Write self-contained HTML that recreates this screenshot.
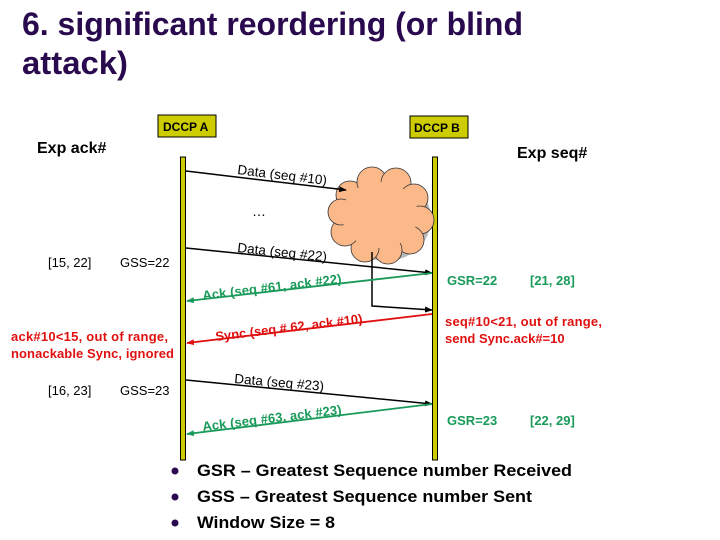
<!DOCTYPE html>
<html><head><meta charset="utf-8"><style>
body{margin:0;background:#fff;}
svg{display:block;}
text{font-family:"Liberation Sans",Arial,sans-serif;}
</style></head><body>
<svg width="720" height="540" viewBox="0 0 720 540" xmlns="http://www.w3.org/2000/svg">
<defs>
<marker id="ak" markerWidth="8" markerHeight="8" refX="7" refY="4" orient="auto" markerUnits="userSpaceOnUse"><path d="M0,1 L8,4 L0,7 z" fill="#000"/></marker>
<marker id="ag" markerWidth="8" markerHeight="8" refX="7" refY="4" orient="auto" markerUnits="userSpaceOnUse"><path d="M0,1 L8,4 L0,7 z" fill="#1a9a5a"/></marker>
<marker id="ar" markerWidth="8" markerHeight="8" refX="7" refY="4" orient="auto" markerUnits="userSpaceOnUse"><path d="M0,1 L8,4 L0,7 z" fill="#e01010"/></marker>
</defs>
<g fill="#2a0a4e" font-weight="bold" font-size="32">
<text x="22" y="35" textLength="501" lengthAdjust="spacingAndGlyphs">6. significant reordering (or blind</text>
<text x="22" y="74" textLength="106" lengthAdjust="spacingAndGlyphs">attack)</text>
</g>
<rect x="158" y="115" width="58" height="22" fill="#cccc00" stroke="#000"/>
<text x="163" y="131" font-size="12" font-weight="bold">DCCP A</text>
<rect x="410" y="116" width="58" height="22" fill="#cccc00" stroke="#000"/>
<text x="414" y="132" font-size="12" font-weight="bold">DCCP B</text>
<text x="37" y="153" font-size="16" font-weight="bold">Exp ack#</text>
<text x="517" y="158" font-size="16" font-weight="bold">Exp seq#</text>
<rect x="180.5" y="157" width="5" height="303" fill="#cccc00" stroke="#000" stroke-width="1"/>
<rect x="432.5" y="157" width="5" height="303" fill="#cccc00" stroke="#000" stroke-width="1"/>
<g fill="#888" opacity="0.6" transform="translate(6,6)">
<ellipse cx="380" cy="213" rx="45" ry="42"/>
</g>
<g fill="#fbb98a" stroke="#333" stroke-width="0.8">
<circle cx="350" cy="195" r="14"/><circle cx="372" cy="182" r="15"/><circle cx="396" cy="183" r="15"/><circle cx="414" cy="198" r="14"/>
<circle cx="420" cy="220" r="14"/><circle cx="410" cy="240" r="14"/><circle cx="388" cy="250" r="14"/><circle cx="365" cy="248" r="14"/>
<circle cx="345" cy="232" r="14"/><circle cx="341" cy="212" r="13"/>
</g>
<ellipse cx="380" cy="215" rx="38" ry="33" fill="#fbb98a"/>
<text x="252" y="216" font-size="14">…</text>
<g stroke="#000" stroke-width="1.5" fill="none">
<line x1="186" y1="171" x2="346" y2="190" marker-end="url(#ak)"/>
<line x1="186" y1="248" x2="432" y2="273" marker-end="url(#ak)"/>
<polyline points="372,252 372,306 432,310" marker-end="url(#ak)"/>
<line x1="186" y1="380" x2="432" y2="404" marker-end="url(#ak)"/>
</g>
<line x1="432" y1="273" x2="187" y2="301" stroke="#1a9a5a" stroke-width="1.8" marker-end="url(#ag)"/>
<line x1="432" y1="314" x2="187" y2="343" stroke="#e01010" stroke-width="1.8" marker-end="url(#ar)"/>
<line x1="432" y1="404" x2="187" y2="434" stroke="#1a9a5a" stroke-width="1.8" marker-end="url(#ag)"/>
<g font-size="13.5">
<text transform="translate(237,174) rotate(7)" textLength="90">Data (seq #10)</text>
<text transform="translate(237,252) rotate(6)" textLength="90">Data (seq #22)</text>
<text transform="translate(234,383) rotate(5)" textLength="90">Data (seq #23)</text>
</g>
<g font-size="13" fill="#1a9a5a" font-weight="bold">
<text transform="translate(203,300) rotate(-7)" textLength="140">Ack (seq #61, ack #22)</text>
<text transform="translate(203,431) rotate(-7)" textLength="140">Ack (seq #63, ack #23)</text>
<text x="447" y="285">GSR=22</text><text x="530" y="285">[21, 28]</text>
<text x="447" y="425">GSR=23</text><text x="530" y="425">[22, 29]</text>
</g>
<g font-size="13" fill="#e01010" font-weight="bold">
<text transform="translate(216,341) rotate(-7)" textLength="148">Sync (seq # 62, ack #10)</text>
<text x="445" y="326" textLength="157">seq#10&lt;21, out of range,</text>
<text x="445" y="343">send Sync.ack#=10</text>
<text x="11" y="341" textLength="157">ack#10&lt;15, out of range,</text>
<text x="11" y="358" textLength="163">nonackable Sync, ignored</text>
</g>
<g font-size="13" fill="#000">
<text x="48" y="267">[15, 22]</text><text x="120" y="267">GSS=22</text>
<text x="48" y="395">[16, 23]</text><text x="120" y="395">GSS=23</text>
</g>
<g fill="#2a0a4e"><circle cx="175" cy="471" r="3.5"/><circle cx="175" cy="497" r="3.5"/><circle cx="175" cy="523" r="3.5"/></g>
<g font-size="17" font-weight="bold">
<text x="197" y="476" textLength="375" lengthAdjust="spacingAndGlyphs">GSR – Greatest Sequence number Received</text>
<text x="197" y="502" textLength="335" lengthAdjust="spacingAndGlyphs">GSS – Greatest Sequence number Sent</text>
<text x="197" y="528" textLength="138" lengthAdjust="spacingAndGlyphs">Window Size = 8</text>
</g>
</svg>
</body></html>
